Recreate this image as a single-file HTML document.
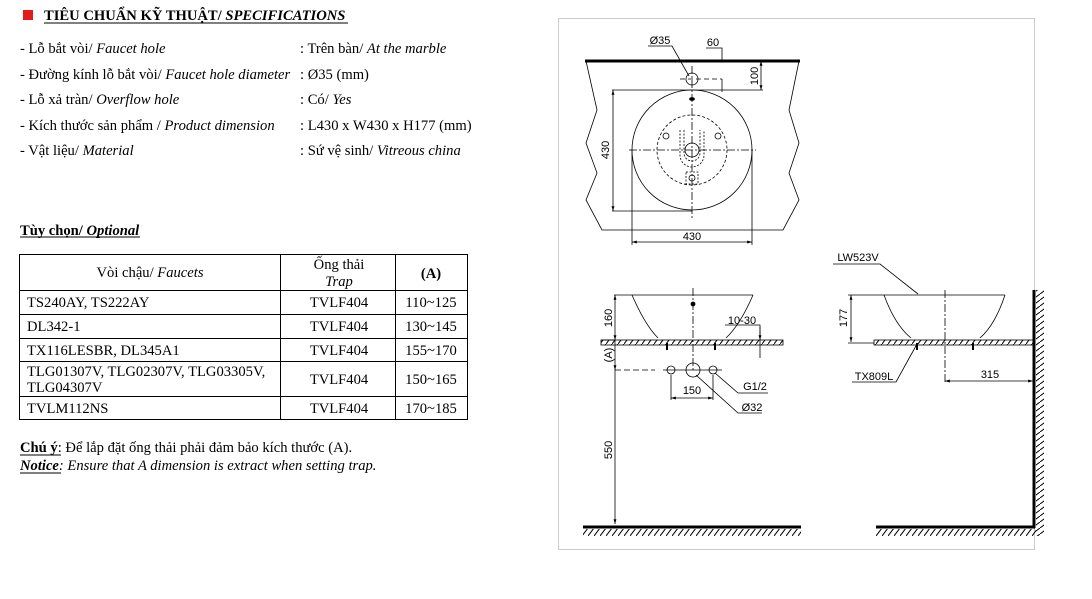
<!DOCTYPE html>
<html><head><meta charset="utf-8"><style>
html,body{margin:0;padding:0;background:#fff;}
svg{display:block;}
.t{font-family:"Liberation Serif",serif;font-size:14.6px;fill:#000;}
.d{font-family:"Liberation Sans",sans-serif;font-size:11px;fill:#000;}
</style></head><body>
<svg width="1092" height="599" viewBox="0 0 1092 599" xmlns="http://www.w3.org/2000/svg">
<defs>
<pattern id="h" width="6" height="8" patternUnits="userSpaceOnUse"><line x1="0" y1="8" x2="6" y2="0" stroke="#000" stroke-width="1"/></pattern>
<pattern id="hv" width="8" height="6" patternUnits="userSpaceOnUse"><line x1="0" y1="6" x2="8" y2="0" stroke="#000" stroke-width="1"/></pattern>
<marker id="a" viewBox="0 0 10 10" refX="10" refY="5" markerWidth="6" markerHeight="6" orient="auto-start-reverse"><path d="M0,2 L10,5 L0,8z" fill="#000"/></marker>
</defs>
<rect x="23" y="10" width="10" height="10" fill="#e21b1b"/>
<text x="44" y="20" class="t" font-weight="bold" font-size="15">TIÊU CHUẨN KỸ THUẬT/ <tspan font-style="italic">SPECIFICATIONS</tspan></text>
<line x1="44" y1="23" x2="348" y2="23" stroke="#000"/>
<g class="t">
<text x="20" y="53">- Lỗ bắt vòi/ <tspan font-style="italic">Faucet hole</tspan></text>
<text x="300" y="53">: Trên bàn/ <tspan font-style="italic">At the marble</tspan></text>
<text x="20" y="79">- Đường kính lỗ bắt vòi/ <tspan font-style="italic">Faucet hole diameter</tspan></text>
<text x="300" y="79">: Ø35 (mm)</text>
<text x="20" y="104">- Lỗ xả tràn/ <tspan font-style="italic">Overflow hole</tspan></text>
<text x="300" y="104">: Có/ <tspan font-style="italic">Yes</tspan></text>
<text x="20" y="130">- Kích thước sản phẩm / <tspan font-style="italic">Product dimension</tspan></text>
<text x="300" y="130">: L430 x W430 x H177 (mm)</text>
<text x="20" y="155">- Vật liệu/ <tspan font-style="italic">Material</tspan></text>
<text x="300" y="155">: Sứ vệ sinh/ <tspan font-style="italic">Vitreous china</tspan></text>
<text x="20" y="235" font-weight="bold">Tùy chọn/ <tspan font-style="italic">Optional</tspan></text>
</g>
<line x1="20" y1="237" x2="140" y2="237" stroke="#000"/>
<g stroke="#000" stroke-width="1" fill="none">
<rect x="19.5" y="254.5" width="448" height="165"/>
<line x1="280.5" y1="254" x2="280.5" y2="420"/>
<line x1="395.5" y1="254" x2="395.5" y2="420"/>
<line x1="19" y1="290.5" x2="468" y2="290.5"/>
<line x1="19" y1="314.5" x2="468" y2="314.5"/>
<line x1="19" y1="338.5" x2="468" y2="338.5"/>
<line x1="19" y1="361.5" x2="468" y2="361.5"/>
<line x1="19" y1="396.5" x2="468" y2="396.5"/>
</g>
<g class="t" font-size="14">
<text x="150" y="277" text-anchor="middle">Vòi chậu/ <tspan font-style="italic">Faucets</tspan></text>
<text x="339" y="269" text-anchor="middle">Ống thải</text>
<text x="339" y="286" text-anchor="middle" font-style="italic">Trap</text>
<text x="431" y="278" text-anchor="middle" font-weight="bold">(A)</text>
<text x="27" y="307">TS240AY, TS222AY</text>
<text x="27" y="331">DL342-1</text>
<text x="27" y="355">TX116LESBR, DL345A1</text>
<text x="27" y="376">TLG01307V, TLG02307V, TLG03305V,</text>
<text x="27" y="392">TLG04307V</text>
<text x="27" y="413">TVLM112NS</text>
<text x="339" y="307" text-anchor="middle">TVLF404</text>
<text x="339" y="331" text-anchor="middle">TVLF404</text>
<text x="339" y="355" text-anchor="middle">TVLF404</text>
<text x="339" y="384" text-anchor="middle">TVLF404</text>
<text x="339" y="413" text-anchor="middle">TVLF404</text>
<text x="431" y="307" text-anchor="middle">110~125</text>
<text x="431" y="331" text-anchor="middle">130~145</text>
<text x="431" y="355" text-anchor="middle">155~170</text>
<text x="431" y="384" text-anchor="middle">150~165</text>
<text x="431" y="413" text-anchor="middle">170~185</text>
</g>
<g class="t" font-size="13.7">
<text x="20" y="452"><tspan font-weight="bold">Chú ý</tspan>: Để lắp đặt ống thải phải đảm bảo kích thước (A).</text>
<text x="20" y="470" font-style="italic"><tspan font-weight="bold">Notice</tspan>: Ensure that A dimension is extract when setting trap.</text>
</g>
<line x1="20" y1="455" x2="61" y2="455" stroke="#000"/>
<line x1="20" y1="473" x2="61" y2="473" stroke="#000"/>

<rect x="558.5" y="18.5" width="476" height="531" fill="none" stroke="#999" stroke-dasharray="1,1"/>

<g stroke="#000" fill="none" stroke-width="0.8">
<line x1="585" y1="61" x2="800" y2="61" stroke-width="3"/>
<polyline points="586,61 597,110 586,143 597,173 586,200 602,230 783,230 799,200 789,173 799,143 789,110 799,61"/>
<circle cx="692" cy="150" r="60"/>
<circle cx="692" cy="150" r="35" stroke-dasharray="3,2"/>
<circle cx="692" cy="150" r="7"/>
<path d="M680,130 L680,155 A12,12 0 0 0 704,155 L704,130 M684,130 L684,153 A8,8 0 0 0 700,153 L700,130" stroke-dasharray="2,1.5"/>
<circle cx="666" cy="136" r="3"/><circle cx="718" cy="136" r="3"/><circle cx="692" cy="178" r="3"/>
<rect x="686" y="172" width="12" height="12" stroke-dasharray="2,1.5"/>
<circle cx="692" cy="79" r="6"/>
<ellipse cx="692" cy="99" rx="2.5" ry="1.5" fill="#000"/>
<line x1="680" y1="79" x2="722" y2="79" stroke-dasharray="5,3"/>
<line x1="692" y1="66" x2="692" y2="218" stroke-dasharray="8,2,2,2"/>
<line x1="629" y1="150" x2="756" y2="150" stroke-dasharray="8,2,2,2"/>
<line x1="612" y1="90" x2="763" y2="90"/>
<line x1="612" y1="211" x2="692" y2="211"/>
<line x1="613" y1="90" x2="613" y2="211" marker-start="url(#a)" marker-end="url(#a)"/>
<line x1="632" y1="150" x2="632" y2="245"/><line x1="752" y1="150" x2="752" y2="245"/>
<line x1="632" y1="242" x2="752" y2="242" marker-start="url(#a)" marker-end="url(#a)"/>
<line x1="761" y1="61" x2="761" y2="90" marker-start="url(#a)" marker-end="url(#a)"/>
<line x1="722" y1="79" x2="722" y2="92"/>
<polyline points="706,48 722,48 722,60"/>
<polyline points="648,46 672,46 689,76"/>
</g>
<g class="d">
<text x="660" y="44" text-anchor="middle">Ø35</text>
<text x="713" y="46" text-anchor="middle">60</text>
<text x="692" y="240" text-anchor="middle">430</text>
<text transform="translate(609,150) rotate(-90)" text-anchor="middle">430</text>
<text transform="translate(758,76) rotate(-90)" text-anchor="middle">100</text>
</g>

<g stroke="#000" fill="none" stroke-width="0.8">
<line x1="614" y1="295" x2="753" y2="295"/>
<path d="M632,295 Q645,325 658,338 M753,295 Q740,325 726,338"/>
<rect x="601" y="340" width="182" height="5" fill="url(#h)"/>
<line x1="693" y1="288" x2="693" y2="372" stroke-dasharray="8,2,2,2"/>
<circle cx="693" cy="304" r="2" fill="#000"/>
<line x1="667" y1="343" x2="667" y2="350" stroke-width="2"/><line x1="715" y1="343" x2="715" y2="350" stroke-width="2"/>
<line x1="614" y1="340" x2="601" y2="340"/>
<line x1="615" y1="295" x2="615" y2="340" marker-start="url(#a)" marker-end="url(#a)"/>
<line x1="615" y1="340" x2="615" y2="370" marker-end="url(#a)"/>
<line x1="615" y1="370" x2="615" y2="524" marker-end="url(#a)"/>
<line x1="615" y1="370" x2="655" y2="370" stroke-dasharray="6,3"/>
<line x1="663" y1="370" x2="722" y2="370"/>
<circle cx="671" cy="370" r="4"/><circle cx="693" cy="370" r="7"/><circle cx="713" cy="370" r="4"/>
<line x1="671" y1="375" x2="671" y2="400"/><line x1="713" y1="375" x2="713" y2="400"/>
<line x1="671" y1="398" x2="713" y2="398" marker-start="url(#a)" marker-end="url(#a)"/>
<polyline points="715,373 738,393 768,393"/>
<polyline points="696,375 738,413 762,413"/>
<polyline points="725,325 760,325 760,358"/>
<line x1="760" y1="327" x2="760" y2="340" marker-end="url(#a)"/>
<line x1="583" y1="527" x2="801" y2="527" stroke-width="3"/>
<rect x="583" y="529" width="218" height="7" fill="url(#h)" stroke="none"/>
</g>
<g class="d">
<text transform="translate(612,318) rotate(-90)" text-anchor="middle">160</text>
<text transform="translate(612,355) rotate(-90)" text-anchor="middle">(A)</text>
<text transform="translate(612,450) rotate(-90)" text-anchor="middle">550</text>
<text x="692" y="394" text-anchor="middle">150</text>
<text x="755" y="390" text-anchor="middle">G1/2</text>
<text x="752" y="411" text-anchor="middle">Ø32</text>
<text x="742" y="324" text-anchor="middle">10-30</text>
</g>

<g stroke="#000" fill="none" stroke-width="0.8">
<line x1="848" y1="295" x2="1005" y2="295"/>
<path d="M884,295 Q895,325 911,338 M1005,295 Q995,325 980,338"/>
<line x1="848" y1="343" x2="874" y2="343"/>
<line x1="851" y1="295" x2="851" y2="342" marker-start="url(#a)" marker-end="url(#a)"/>
<rect x="874" y="340" width="160" height="5" fill="url(#h)"/>
<line x1="945" y1="290" x2="945" y2="384" stroke-dasharray="8,2,2,2"/>
<line x1="917" y1="343" x2="917" y2="350" stroke-width="2"/><line x1="973" y1="343" x2="973" y2="350" stroke-width="2"/>
<line x1="1034" y1="290" x2="1034" y2="528" stroke-width="3"/>
<rect x="1036" y="290" width="8" height="246" fill="url(#hv)" stroke="none"/>
<line x1="876" y1="527" x2="1035" y2="527" stroke-width="3"/>
<rect x="876" y="529" width="160" height="7" fill="url(#h)" stroke="none"/>
<line x1="945" y1="381" x2="1033" y2="381" marker-start="url(#a)" marker-end="url(#a)"/>
<polyline points="833,264 880,264 918,294"/>
<polyline points="852,382 896,382 917,344"/>
</g>
<g class="d">
<text x="858" y="261" text-anchor="middle">LW523V</text>
<text x="874" y="380" text-anchor="middle">TX809L</text>
<text x="990" y="378" text-anchor="middle">315</text>
<text transform="translate(847,318) rotate(-90)" text-anchor="middle">177</text>
</g>
</svg>
</body></html>
